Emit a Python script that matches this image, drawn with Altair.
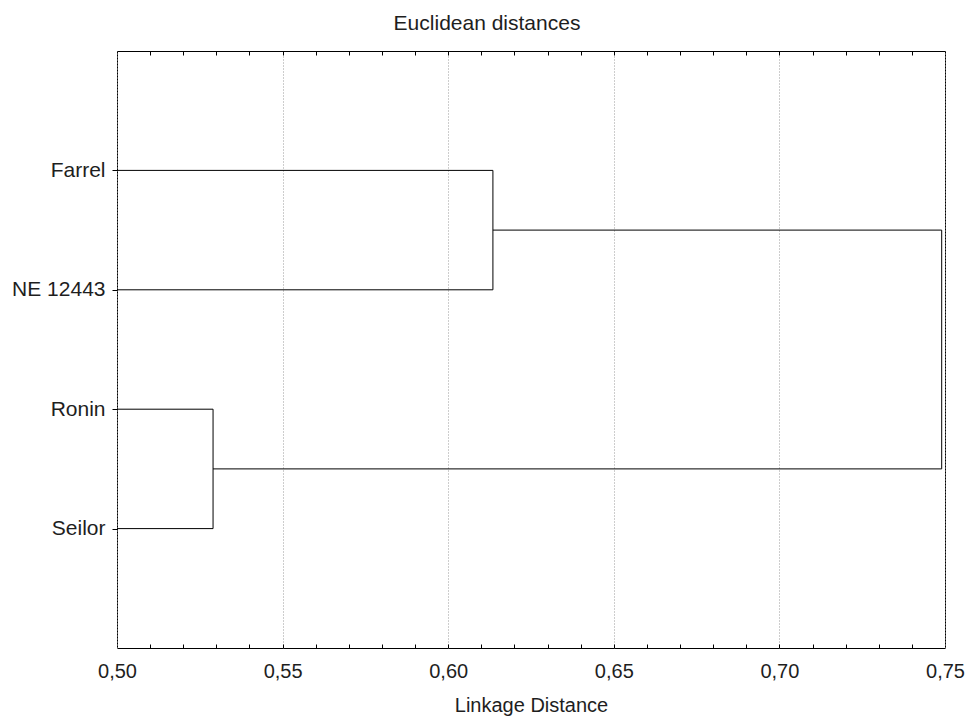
import altair as alt
import pandas as pd

# ---- data ----
leaves = ["Farrel", "NE 12443", "Ronin", "Seilor"]
leaf_pos = [1, 2, 3, 4]
cluster_a = ["Farrel", "NE 12443"]
dist_a = 0.6135
cluster_b = ["Ronin", "Seilor"]
dist_b = 0.5290
dist_root = 0.7490
x_domain = [0.50, 0.75]
y_domain = [0, 5]
major_ticks = [0.50, 0.55, 0.60, 0.65, 0.70, 0.75]
minor_ticks = [round(0.50 + 0.01 * i, 2) for i in range(1, 25)]

FONT = "Liberation Sans"
FS = 20
TXT = "#1e1e1e"

pos = dict(zip(leaves, leaf_pos))
x0 = x_domain[0]
ya = [pos[n] for n in cluster_a]
yb = [pos[n] for n in cluster_b]
ya_mid = sum(ya) / 2
yb_mid = sum(yb) / 2

segs = []
for n in cluster_a:
    segs.append(dict(x=x0, x2=dist_a, y=pos[n], y2=pos[n]))
segs.append(dict(x=dist_a, x2=dist_a, y=ya[0], y2=ya[1]))
for n in cluster_b:
    segs.append(dict(x=x0, x2=dist_b, y=pos[n], y2=pos[n]))
segs.append(dict(x=dist_b, x2=dist_b, y=yb[0], y2=yb[1]))
segs.append(dict(x=dist_a, x2=dist_root, y=ya_mid, y2=ya_mid))
segs.append(dict(x=dist_b, x2=dist_root, y=yb_mid, y2=yb_mid))
segs.append(dict(x=dist_root, x2=dist_root, y=ya_mid, y2=yb_mid))
df = pd.DataFrame(segs)

label_expr = "".join(f"datum.value == {p} ? '{n}' : " for n, p in zip(leaves, leaf_pos)) + "''"
num_expr = "replace(format(datum.value, '.2f'), '.', ',')"

xscale = alt.Scale(domain=x_domain, nice=False, zero=False)
yscale = alt.Scale(domain=y_domain, reverse=True, nice=False, zero=False)

main = alt.Chart(df).mark_rule(color="black", strokeWidth=1).encode(
    x=alt.X("x:Q", scale=xscale,
            axis=alt.Axis(values=major_ticks, labelExpr=num_expr, title="Linkage Distance",
                          orient="bottom", ticks=False, domain=False, grid=True,
                          gridColor="#9a9a9a", gridDash=[1, 2], gridWidth=1,
                          labelPadding=13, titlePadding=14, labelFlush=False)),
    x2="x2:Q",
    y=alt.Y("y:Q", scale=yscale,
            axis=alt.Axis(values=leaf_pos, labelExpr=label_expr, title=None, orient="left",
                          ticks=True, tickSize=5, tickColor="black", domain=False, grid=False,
                          labelPadding=7, labelFontSize=21)),
    y2="y2:Q",
)

bottom_minor = alt.Chart(pd.DataFrame({"t": minor_ticks})).mark_rule(opacity=0).encode(
    x=alt.X("t:Q", scale=xscale,
            axis=alt.Axis(values=minor_ticks, labels=False, title=None, orient="bottom",
                          ticks=True, tickSize=4, tickColor="black", tickWidth=1,
                          domain=False, grid=False, offset=-4)),
)

top_minor = alt.Chart(pd.DataFrame({"t": minor_ticks})).mark_rule(opacity=0).encode(
    x=alt.X("t:Q", scale=xscale,
            axis=alt.Axis(values=minor_ticks, labels=False, title=None, orient="top",
                          ticks=True, tickSize=4, tickColor="black", tickWidth=1,
                          domain=False, grid=False, offset=-4)),
)

chart = alt.layer(main, bottom_minor, top_minor).resolve_axis(x="independent").properties(
    width=828,
    height=597,
    background="white",
    title=alt.TitleParams("Euclidean distances", font=FONT, fontSize=21, fontWeight="normal",
                          color=TXT, offset=17, frame="group", dx=-44),
    autosize=alt.AutoSizeParams(type="none"),
    padding={"left": 117, "top": 51, "right": 24, "bottom": 70},
).configure_view(
    stroke="black", strokeWidth=1
).configure_axis(
    labelFont=FONT, labelFontSize=FS, labelColor=TXT,
    titleFont=FONT, titleFontSize=FS, titleFontWeight="normal", titleColor=TXT,
)

chart.save("out.html", embed_options={"renderer": "svg", "actions": False})
